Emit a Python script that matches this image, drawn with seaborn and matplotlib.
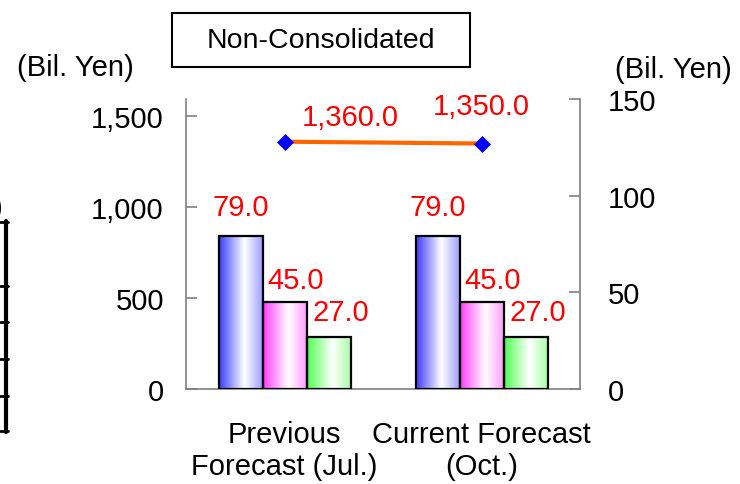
import numpy as np
import pandas as pd
import matplotlib
matplotlib.use("Agg")
import matplotlib.pyplot as plt
from matplotlib.colors import LinearSegmentedColormap, to_rgb
from matplotlib.lines import Line2D
from matplotlib.patches import Rectangle
from matplotlib.ticker import FuncFormatter
import seaborn as sns

# ---- data -------------------------------------------------------------
categories = ["Previous\nForecast (Jul.)", "Current Forecast\n(Oct.)"]
sales = [1360.0, 1350.0]                      # left axis (line)
bar_series = ["Operating Income", "Ordinary Income", "Net Income"]
previous_income = [79.0, 45.0, 27.0]          # right axis (bars)
current_income = [79.0, 45.0, 27.0]
left_ticks = [0, 500, 1000, 1500]
right_ticks = [0, 50, 100, 150]

income = pd.DataFrame({
    "period": np.repeat(categories, len(bar_series)),
    "series": bar_series * len(categories),
    "value": previous_income + current_income,
})

# ---- style ------------------------------------------------------------
sns.set_theme(style="white")
plt.rcParams["font.family"] = ["Liberation Sans", "DejaVu Sans"]
plt.rcParams["text.color"] = "black"
plt.rcParams["xtick.color"] = "black"
plt.rcParams["ytick.color"] = "black"
GRAY = "#808080"
RED = "#FF0000"
FS = 21
bar_colors = ["#3C3CFF", "#FF3CFF", "#50FF50"]

fig = plt.figure(figsize=(7.4, 4.85), dpi=100)
ax = fig.add_axes([0.2514, 0.1959, 0.5324, 0.598])

# sales line with diamond markers
sns.pointplot(x=categories, y=sales, ax=ax, color="#FF6600",
              markers="D", errorbar=None)
sales_line = ax.lines[0]
sales_line.set_linewidth(3)
sales_line.set_markersize(8)
sales_line.set_markerfacecolor("#0000FF")
sales_line.set_markeredgecolor("#0000FF")
sales_line.set_markeredgewidth(0.5)

# income bars on the secondary axis
ax2 = ax.twinx()
sns.barplot(data=income, x="period", y="value", hue="series",
            order=categories, hue_order=bar_series, palette=bar_colors,
            saturation=1, width=0.67, legend=False, ax=ax2,
            edgecolor="black", linewidth=1.6)

# cylinder-like horizontal shading inside every bar
for patch in list(ax2.patches):
    h = patch.get_height()
    if not np.isfinite(h) or h <= 0:
        continue
    x0, w = patch.get_x(), patch.get_width()
    base = np.array(to_rgb(patch.get_facecolor()))
    light = base + (1 - base) * 0.5
    cmap = LinearSegmentedColormap.from_list(
        "shade", [(0.0, base), (0.58, (1, 1, 1)), (1.0, light)])
    grad = np.linspace(0, 1, 200).reshape(1, -1)
    ax2.imshow(grad, cmap=cmap, extent=[x0, x0 + w, 0, h], aspect="auto",
               interpolation="bilinear", zorder=1.5)
    patch.set_facecolor("none")
    patch.set_zorder(2)

# value labels for the bars
bar_label_offsets = [(0, 21), (8, 16), (9, 18)]   # points, per series
for container, (dx, dy) in zip(ax2.containers, bar_label_offsets):
    for patch in container:
        h = patch.get_height()
        ax2.annotate(f"{h:.1f}", xy=(patch.get_x() + patch.get_width() / 2, h),
                     xytext=(dx, dy), textcoords="offset points",
                     ha="center", va="center", color=RED, fontsize=FS)

# value labels for the line
line_label_offsets = [(47, 18), (0, 27)]
xs, ys = sales_line.get_data()
for x, y, (dx, dy) in zip(xs, ys, line_label_offsets):
    ax.annotate(f"{y:,.1f}", xy=(x, y), xytext=(dx, dy),
                textcoords="offset points", ha="center", va="center",
                color=RED, fontsize=FS)

# ---- axes -------------------------------------------------------------
ax.set_xlim(-0.5, 1.5)
ax.set_ylim(0, 1595)
ax2.set_ylim(0, 150)
ax.set_yticks(left_ticks)
ax2.set_yticks(right_ticks)
ax.yaxis.set_major_formatter(FuncFormatter(lambda v, p: f"{v:,.0f}"))
for a in (ax, ax2):
    a.set_xlabel("")
    a.set_ylabel("")

for name, sp in ax.spines.items():
    sp.set_visible(name in ("left", "bottom"))
    sp.set_color(GRAY)
    sp.set_linewidth(1.2)
for name, sp in ax2.spines.items():
    sp.set_visible(name == "right")
    sp.set_color(GRAY)
    sp.set_linewidth(1.2)

ax.tick_params(axis="y", direction="in", length=8, width=1.2, color=GRAY,
               pad=16, labelsize=FS, labelcolor="black")
ax2.tick_params(axis="y", direction="in", length=8, width=1.2, color=GRAY,
                pad=20, labelsize=FS, labelcolor="black")
ax.tick_params(axis="x", length=0, pad=22, labelsize=FS, labelcolor="black")
for lbl in ax.get_xticklabels():
    lbl.set_multialignment("center")
    lbl.set_linespacing(1.2)

# ---- figure annotations ----------------------------------------------
fig.text(75 / 740, 1 - 68 / 485, "(Bil. Yen)", ha="center", va="center",
         fontsize=FS)
fig.text(673 / 740, 1 - 70 / 485, "(Bil. Yen)", ha="center", va="center",
         fontsize=FS)

fig.add_artist(Rectangle((172 / 740, 1 - 68 / 485), 298 / 740, 54 / 485,
                         transform=fig.transFigure, facecolor="white",
                         edgecolor="black", linewidth=1.5))
fig.text(321 / 740, 1 - 41 / 485, "Non-Consolidated", ha="center",
         va="center", fontsize=20.5)

# edge of the neighbouring table
fig.text(3 / 740, 1 - 208 / 485, ")", ha="right", va="center", fontsize=FS)
fig.add_artist(Line2D([6 / 740, 6 / 740], [1 - 222 / 485, 1 - 433 / 485],
                      transform=fig.transFigure, color="black", linewidth=3))
for yy in [223, 287, 323, 360, 397, 432]:
    fig.add_artist(Line2D([0, 8 / 740], [1 - yy / 485, 1 - yy / 485],
                          transform=fig.transFigure, color="black",
                          linewidth=2))

fig.savefig("out.png", dpi=100)
